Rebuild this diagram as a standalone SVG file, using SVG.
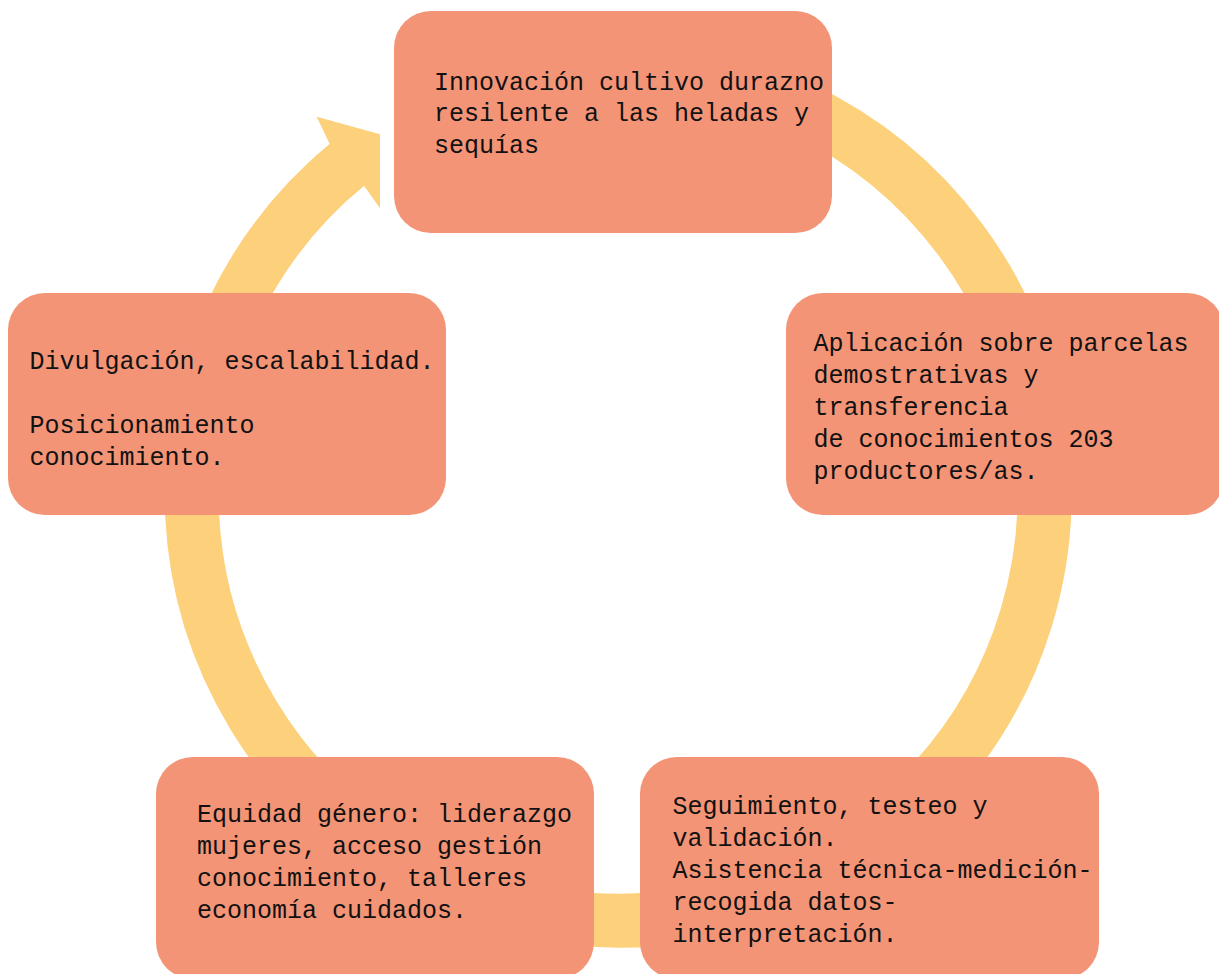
<svg xmlns="http://www.w3.org/2000/svg" width="1219" height="974" viewBox="0 0 1219 974">
<style>
.box{fill:#F39477}
.arc{fill:none;stroke:#FDD07B;stroke-width:54}
.head{fill:#FDD07B}
.t{font-family:"Liberation Mono","DejaVu Sans Mono",monospace;font-size:25px;fill:#111}
</style>
<rect x="0" y="0" width="1219" height="974" fill="#FFFFFF"/>
<g id="connectors">
<path class="arc" d="M618,67.5 A426.5,426.5 0 1 1 346.8,164.9"/>
<polygon class="head" points="329.7,144 316.7,116.7 380,134.3 380,208.3 364,185.7 350.7,197.1 314.6,157"/>
</g>
<g id="node-innovacion">
<rect class="box" x="394" y="11" width="438" height="222" rx="37"/>
<text class="t" x="434"><tspan x="434" y="89.5">Innovación cultivo durazno</tspan><tspan x="434" y="121">resilente a las heladas y</tspan><tspan x="434" y="153">sequías</tspan></text>
</g>
<g id="node-aplicacion">
<rect class="box" x="786" y="293" width="438" height="222" rx="37"/>
<text class="t"><tspan x="813.5" y="351">Aplicación sobre parcelas</tspan><tspan x="813.5" y="383">demostrativas y</tspan><tspan x="813.5" y="415">transferencia</tspan><tspan x="813.5" y="447">de conocimientos 203</tspan><tspan x="813.5" y="479">productores/as.</tspan></text>
</g>
<g id="node-seguimiento">
<rect class="box" x="640" y="757" width="459" height="222" rx="37"/>
<text class="t"><tspan x="672.5" y="814">Seguimiento, testeo y</tspan><tspan x="672.5" y="846">validación.</tspan><tspan x="672.5" y="878">Asistencia técnica-medición-</tspan><tspan x="672.5" y="910">recogida datos-</tspan><tspan x="672.5" y="942">interpretación.</tspan></text>
</g>
<g id="node-equidad">
<rect class="box" x="156" y="757" width="438" height="222" rx="37"/>
<text class="t"><tspan x="197" y="822">Equidad género: liderazgo</tspan><tspan x="197" y="854">mujeres, acceso gestión</tspan><tspan x="197" y="886">conocimiento, talleres</tspan><tspan x="197" y="918">economía cuidados.</tspan></text>
</g>
<g id="node-divulgacion">
<rect class="box" x="8" y="293" width="438" height="222" rx="37"/>
<text class="t"><tspan x="29.5" y="369">Divulgación, escalabilidad.</tspan><tspan x="29.5" y="433">Posicionamiento</tspan><tspan x="29.5" y="465">conocimiento.</tspan></text>
</g>
</svg>
